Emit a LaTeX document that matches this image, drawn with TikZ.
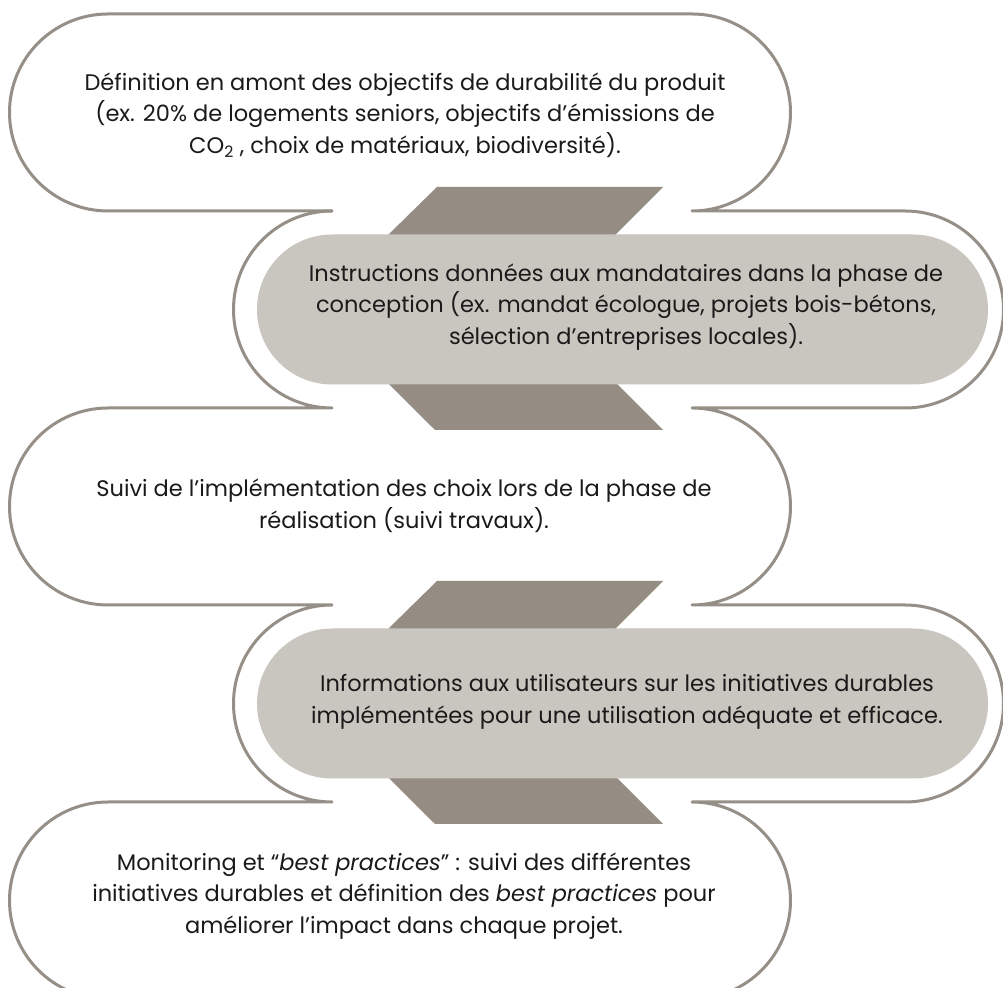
\documentclass[tikz,border=0pt]{standalone}
\usepackage{fontspec}
\setmainfont{Poppins}
\definecolor{chevcol}{HTML}{958D84}
\definecolor{pillcol}{HTML}{C9C5BF}
\definecolor{linecol}{HTML}{968F87}
\definecolor{textcol}{HTML}{1A1A1A}
\tikzset{
  chev/.style={fill=chevcol},
  graypill/.style={fill=pillcol},
  outl/.style={draw=linecol, line width=3pt, line cap=round, line join=round},
  txt/.style={align=center, inner sep=0pt, text=textcol, font=\fontsize{22.5}{31.5}\selectfont}
}
\begin{document}
\begin{tikzpicture}[x=1pt,y=1pt]
\useasboundingbox (0,0) rectangle (1003,987);
\clip (0,0) rectangle (1003,987);
\fill[white] (0,0) rectangle (1003,987);
% chevron connectors
\fill[chev] (437,800) -- (663,800) -- (542,678.5) -- (663,557) -- (435,557) -- (313,678.5) -- cycle;
\fill[chev] (437,406) -- (663,406) -- (542,284.5) -- (663,163) -- (435,163) -- (313,284.5) -- cycle;
% gray pills
\fill[graypill] (332,752.5) -- (913,752.5) arc[start angle=90,end angle=-90,radius=75] -- (332,602.5) arc[start angle=270,end angle=90,radius=75] -- cycle;
\fill[graypill] (332,358.5) -- (913,358.5) arc[start angle=90,end angle=-90,radius=75] -- (332,208.5) arc[start angle=270,end angle=90,radius=75] -- cycle;
% outlines
\draw[outl] (332,776) -- (108,776) arc[start angle=270,end angle=90,radius=98.5]
  -- (692,973) arc[start angle=90,end angle=-90,radius=98.5]
  -- (905,776) arc[start angle=90,end angle=-90,radius=98.5]
  -- (692,579) arc[start angle=90,end angle=-90,radius=98.5]
  -- (905,382) arc[start angle=90,end angle=-90,radius=98.5]
  -- (692,185) arc[start angle=90,end angle=-90,radius=98.5];
\draw[outl] (332,776) arc[start angle=90,end angle=270,radius=98.5]
  -- (108,579) arc[start angle=90,end angle=270,radius=98.5]
  -- (332,382) arc[start angle=90,end angle=270,radius=98.5]
  -- (108,185) arc[start angle=90,end angle=270,radius=98.5];
% texts
\node[txt] (t1) at (405,872) {Définition en amont des objectifs de durabilité du produit\\(ex. 20\% de logements seniors, objectifs d’émissions de\\CO\textsubscript{2} , choix de matériaux, biodiversité).};
\node[txt] (t2) at (626,680) {Instructions données aux mandataires dans la phase de\\conception (ex. mandat écologue, projets bois-bétons,\\sélection d’entreprises locales).};
\node[txt] (t3) at (404,481) {Suivi de l’implémentation des choix lors de la phase de\\réalisation (suivi travaux).};
\node[txt] (t4) at (627,285) {Informations aux utilisateurs sur les initiatives durables\\implémentées pour une utilisation adéquate et efficace.};
\node[txt] (t5) at (404,91) {Monitoring et “\textit{best practices}” : suivi des différentes\\initiatives durables et définition des \textit{best practices} pour\\améliorer l’impact dans chaque projet.};
\end{tikzpicture}
\end{document}
